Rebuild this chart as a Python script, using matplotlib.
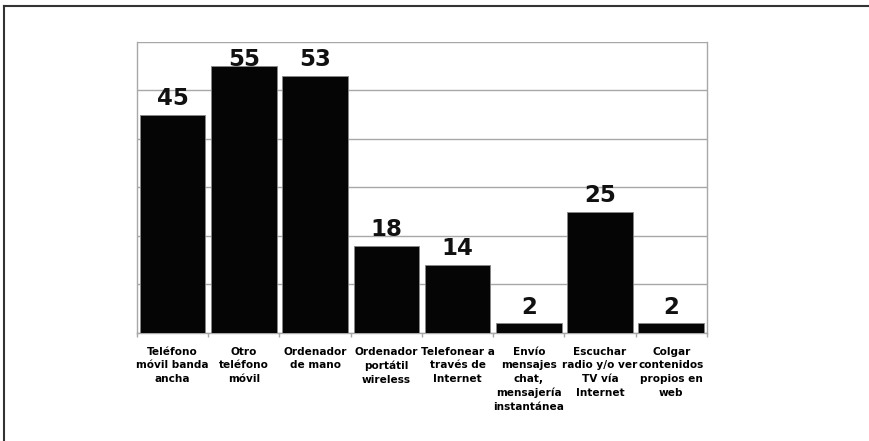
import matplotlib.pyplot as plt
from matplotlib.lines import Line2D
import numpy as np

# categorías y valores
categorias = [
    'Teléfono\nmóvil banda\nancha',
    'Otro\nteléfono\nmóvil',
    'Ordenador\nde mano',
    'Ordenador\nportátil\nwireless',
    'Telefonear a\ntravés de\nInternet',
    'Envío\nmensajes\nchat,\nmensajería\ninstantánea',
    'Escuchar\nradio y/o ver\nTV vía\nInternet',
    'Colgar\ncontenidos\npropios en\nweb',
]
valores = [45, 55, 53, 18, 14, 2, 25, 2]

fig = plt.figure(figsize=(8.7, 4.41), dpi=100)
ax = fig.add_axes([0.1575, 0.2449, 0.655, 0.6599])

x = np.arange(len(categorias))
ax.bar(x, valores, width=0.92, color='#050505', edgecolor='#888888', linewidth=0.6, zorder=3)

# etiquetas de valor (no pasan del borde superior)
for xi, v in zip(x, valores):
    ax.text(xi, min(v + 2, 55.1), str(v), ha='center', va='baseline', fontsize=16.5,
            fontweight='bold', color='#111111')

ax.set_xlim(-0.5, len(categorias) - 0.5)
ax.set_ylim(0, 60)
ax.set_yticks(range(0, 61, 10))
ax.set_yticklabels([])
ax.tick_params(axis='y', length=0)
ax.yaxis.grid(True, color='#a8a8a8', linewidth=1, zorder=0)

ax.set_xticks(x)
ax.set_xticklabels(categorias, fontsize=7.6, fontweight='bold', linespacing=1.45, va='top')
ax.tick_params(axis='x', which='major', length=0, pad=10)
ax.set_xticks(np.arange(-0.5, len(categorias), 1), minor=True)
ax.tick_params(axis='x', which='minor', length=3, color='#a8a8a8', width=1)

ax.spines['top'].set_visible(False)
for s in ['left', 'right', 'bottom']:
    ax.spines[s].set_color('#a8a8a8')
    ax.spines[s].set_linewidth(1)

# marco exterior (solo arriba e izquierda)
fig.add_artist(Line2D([4 / 870, 4 / 870], [0, 1 - 6 / 441], color='#333333', linewidth=1.5))
fig.add_artist(Line2D([4 / 870, 1], [1 - 6 / 441, 1 - 6 / 441], color='#333333', linewidth=1.5))

fig.savefig('out.png', dpi=100)
